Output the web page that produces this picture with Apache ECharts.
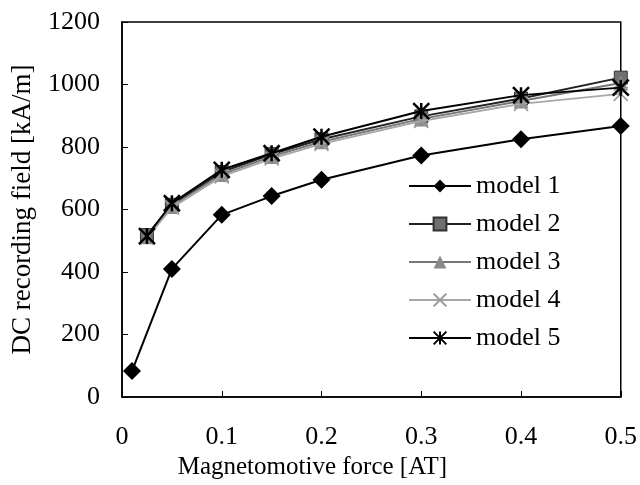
<!DOCTYPE html>
<html>
<head>
<meta charset="utf-8">
<script src="https://cdn.jsdelivr.net/npm/echarts@6/dist/echarts.min.js"></script>
<style>html,body{margin:0;padding:0;background:#fff}#c{width:640px;height:485px}</style>
</head>
<body>
<div id="c"></div>
<script>
var seriesNames = ['model 1', 'model 2', 'model 3', 'model 4', 'model 5'];
var xModel1 = [0.01, 0.05, 0.1, 0.15, 0.2, 0.3, 0.4, 0.5];
var xOthers = [0.025, 0.05, 0.1, 0.15, 0.2, 0.3, 0.4, 0.5];
var model1 = [83, 410, 583, 643, 695, 773, 825, 867];
var model2 = [518, 615, 720, 777, 825, 898, 955, 1022];
var model3 = [513, 610, 712, 770, 817, 890, 947, 1005];
var model4 = [510, 606, 706, 763, 810, 883, 938, 970];
var model5 = [515, 620, 727, 780, 833, 915, 966, 990];
var xTicks = [0, 0.1, 0.2, 0.3, 0.4, 0.5];
var yTicks = [0, 200, 400, 600, 800, 1000, 1200];

function pairs(xs, ys) { return xs.map(function (x, i) { return [x, ys[i]]; }); }

var font = 'Liberation Serif';
var styles = [
  {symbol: 'diamond', size: 18, line: '#000', lw: 2, item: {color: '#000'}},
  {symbol: 'rect', size: 13, line: '#222', lw: 2, item: {color: '#707070', borderColor: '#333', borderWidth: 1}},
  {symbol: 'triangle', size: 15, line: '#777', lw: 2, item: {color: '#8a8a8a'}},
  {symbol: 'path://M0,0L20,20M20,0L0,20', size: 14, line: '#a8a8a8', lw: 2, item: {color: 'rgba(0,0,0,0)', borderColor: '#9a9a9a', borderWidth: 1.5}},
  {symbol: 'path://M0,0L20,20M20,0L0,20M10,0L10,20', size: 16, line: '#000', lw: 2, item: {color: 'rgba(0,0,0,0)', borderColor: '#000', borderWidth: 2.5}}
];
var datas = [pairs(xModel1, model1), pairs(xOthers, model2), pairs(xOthers, model3), pairs(xOthers, model4), pairs(xOthers, model5)];

var series = seriesNames.map(function (n, i) {
  var s = styles[i];
  return {
    name: n, type: 'line', data: datas[i],
    symbol: s.symbol, symbolSize: s.size, showAllSymbol: true,
    lineStyle: {color: s.line, width: s.lw},
    itemStyle: s.item,
    animation: false, z: 2 + i
  };
});

var chart = echarts.init(document.getElementById('c'), null, {renderer: 'canvas'});
chart.setOption({
  backgroundColor: '#fff',
  animation: false,
  grid: {left: 122, top: 22, right: 18, bottom: 88, show: true, borderColor: '#000', borderWidth: 1.5, backgroundColor: 'transparent'},
  legend: {
    orient: 'vertical', left: 408, top: 173, padding: 0,
    itemWidth: 62, itemHeight: 16, itemGap: 12,
    textStyle: {fontFamily: font, fontSize: 26, color: '#000', lineHeight: 26},
    data: seriesNames
  },
  xAxis: {
    type: 'value', min: xTicks[0], max: xTicks[xTicks.length - 1], interval: 0.1,
    name: 'Magnetomotive force [AT]', nameLocation: 'middle', nameGap: 57,
    nameTextStyle: {fontFamily: font, fontSize: 25, color: '#000', padding: [0, 118, 0, 0]},
    axisLine: {show: true, lineStyle: {color: '#000', width: 1.5}},
    axisTick: {show: true, inside: true, length: 6, lineStyle: {color: '#000'}},
    axisLabel: {fontFamily: font, fontSize: 26, color: '#000', margin: 27, formatter: function (v) { return String(v); }},
    splitLine: {show: false}
  },
  yAxis: {
    type: 'value', min: yTicks[0], max: yTicks[yTicks.length - 1], interval: 200,
    name: 'DC recording field [kA/m]', nameLocation: 'middle', nameGap: 86, nameRotate: 90,
    nameTextStyle: {fontFamily: font, fontSize: 27, color: '#000'},
    axisLine: {show: true, lineStyle: {color: '#000', width: 1.5}},
    axisTick: {show: true, inside: true, length: 6, lineStyle: {color: '#000'}},
    axisLabel: {fontFamily: font, fontSize: 26, color: '#000', margin: 22, formatter: function (v) { return String(v); }},
    splitLine: {show: false}
  },
  series: series
});
</script>
</body>
</html>
